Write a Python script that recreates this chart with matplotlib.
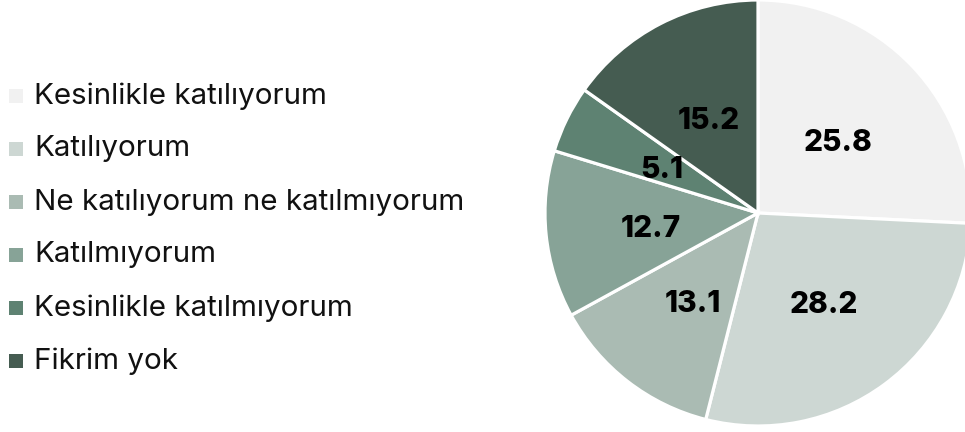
import matplotlib.pyplot as plt
from matplotlib.patches import Rectangle
from matplotlib.transforms import offset_copy

plt.rcParams['font.family'] = ['Inter', 'DejaVu Sans']

labels = ['Kesinlikle katılıyorum', 'Katılıyorum', 'Ne katılıyorum ne katılmıyorum',
          'Katılmıyorum', 'Kesinlikle katılmıyorum', 'Fikrim yok']
values = [25.8, 28.2, 13.1, 12.7, 5.1, 15.2]
colors = ['#f1f1f1', '#cdd7d3', '#aabbb3', '#87a397', '#5e8272', '#455c51']

W, H = 965, 432
fig = plt.figure(figsize=(W / 100, H / 100), dpi=100)

# pie: center (758, 213) px, radius 213 px
cx, cy, r = 758, 213, 213
ax = fig.add_axes([(cx - r) / W, (H - cy - r) / H, 2 * r / W, 2 * r / H])
wedges, texts = ax.pie(values, colors=colors, startangle=90, counterclock=False,
                       labels=[f'{v:.1f}' for v in values], labeldistance=0.51,
                       wedgeprops=dict(edgecolor='white', linewidth=2.3),
                       textprops=dict(fontsize=21.5, fontweight='heavy', color='black',
                                      ha='center', va='center'))
for t in texts:
    t.set_transform(offset_copy(t.get_transform(), fig=fig, x=1, y=-5, units='dots'))
ax.set_xlim(-1, 1)
ax.set_ylim(-1, 1)
ax.set_aspect('equal')
ax.axis('off')

# legend drawn as squares + text
y0, step = 96, 53
for i, (lab, col) in enumerate(zip(labels, colors)):
    y = y0 + i * step
    fig.patches.append(Rectangle((9 / W, (H - y - 7) / H), 14 / W, 14 / H,
                                 transform=fig.transFigure, facecolor=col,
                                 edgecolor='none'))
    fig.text(34 / W, (H - y) / H, lab, fontsize=21.3, color='#111111',
             ha='left', va='center')

fig.savefig('out.png', dpi=100, facecolor='white')
